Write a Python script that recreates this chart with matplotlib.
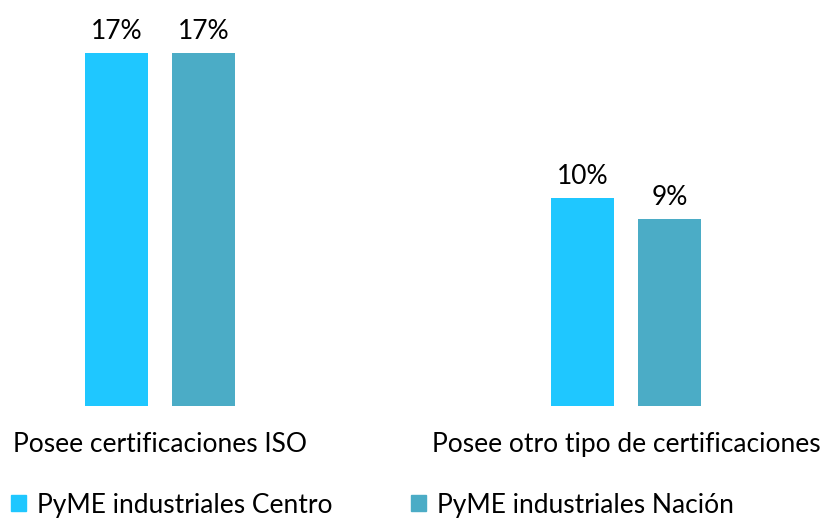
import matplotlib
matplotlib.use("Agg")
import matplotlib.pyplot as plt
from matplotlib.patches import Patch
import numpy as np

categories = ["Posee certificaciones ISO", "Posee otro tipo de certificaciones"]
series_names = ["PyME industriales Centro", "PyME industriales Nación"]
centro = [17, 10]
nacion = [17, 9]
colors = ["#1FC7FF", "#4BACC6"]

plt.rcParams['font.family'] = ['Lato', 'DejaVu Sans']
FS = 19

fig = plt.figure(figsize=(8.28, 5.19), dpi=100)
bottom = (519 - 406) / 519
ax = fig.add_axes([0, bottom, 1, 1 - bottom])

x = np.arange(len(categories))
w = 63 / 466.5
off = 43.5 / 466.5
b1 = ax.bar(x - off, centro, w, color=colors[0])
b2 = ax.bar(x + off, nacion, w, color=colors[1])
for bars, vals in ((b1, centro), (b2, nacion)):
    for r, v in zip(bars, vals):
        ax.text(r.get_x() + r.get_width() / 2, v + 0.45, f"{v}%",
                ha="center", va="bottom", fontsize=FS, color="#000000")

ax.set_xlim(-160 / 466.5, (828 - 160) / 466.5)
ax.set_ylim(0, 17 * 406 / 353)
ax.set_xticks(x)
ax.set_xticklabels(categories, fontsize=FS)
ax.tick_params(axis='x', length=0, pad=19)
ax.set_yticks([])
for s in ax.spines.values():
    s.set_visible(False)

hl = 15 / (FS * 100 / 72)
for i, (c, name) in enumerate(zip(colors, series_names)):
    leg = fig.legend([Patch(color=c)], [name], loc="center left",
                     bbox_to_anchor=((11 + 400 * i) / 828, 1 - 505 / 519),
                     frameon=False, fontsize=FS, handlelength=hl, handleheight=hl,
                     handletextpad=0.42, borderaxespad=0, borderpad=0)

fig.savefig("out.png", dpi=100)
